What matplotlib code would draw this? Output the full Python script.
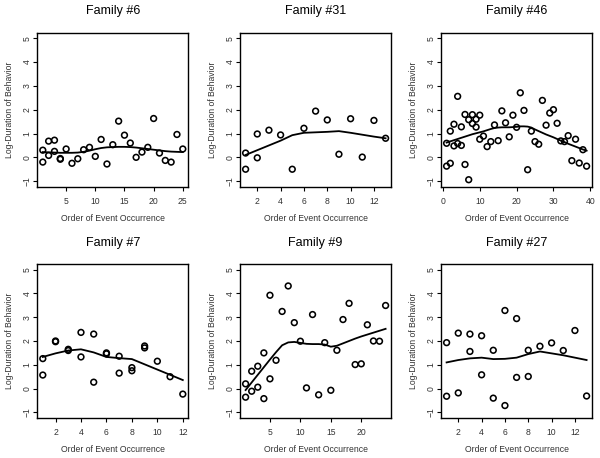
import matplotlib
matplotlib.use("Agg")
import matplotlib.pyplot as plt

plt.rcParams['font.family'] = ['Liberation Sans', 'DejaVu Sans']

# Family #6
x6 = [1, 1, 2, 2, 3, 3, 4, 4, 5, 6, 7, 8, 9, 10, 11, 12, 13, 14, 15, 16, 17, 18, 19, 20, 21, 22, 23, 24, 25]
y6 = [0.30, -0.20, 0.68, 0.08, 0.72, 0.25, -0.05, -0.08, 0.35, -0.25, -0.06, 0.32, 0.42, 0.04, 0.75,
      -0.28, 0.53, 1.52, 0.93, 0.60, 0.00, 0.22, 0.42, 1.63, 0.18, -0.13, -0.20, 0.96, 0.35]
fit6 = [0.22, 0.21, 0.20, 0.19, 0.19, 0.19, 0.20, 0.23, 0.28, 0.34, 0.39, 0.42, 0.43, 0.44, 0.44,
        0.43, 0.41, 0.38, 0.35, 0.32, 0.29, 0.26, 0.24, 0.23, 0.22]

# Family #31
x31 = [1, 1, 2, 2, 3, 4, 5, 6, 7, 8, 9, 10, 11, 12, 13]
y31 = [0.18, -0.50, 0.98, -0.02, 1.14, 0.94, -0.50, 1.22, 1.94, 1.57, 0.13, 1.62, 0.01, 1.55, 0.80]
fit31 = [0.10, 0.30, 0.50, 0.70, 0.93, 1.03, 1.05, 1.07, 1.10, 1.03, 0.95, 0.87, 0.80]

# Family #46
x46 = [1, 1, 2, 2, 3, 3, 4, 4, 5, 5, 6, 6, 7, 7, 8, 8, 9, 9, 10, 10, 11, 12, 13, 14, 15, 16, 17, 18, 19,
       20, 21, 22, 23, 24, 25, 26, 27, 28, 29, 30, 31, 32, 33, 34, 35, 36, 37, 38, 39]
y46 = [-0.37, 0.59, -0.25, 1.10, 1.39, 0.48, 2.56, 0.58, 1.28, 0.50, 1.80, -0.30, 1.58, -0.94, 1.79, 1.42,
       1.60, 1.27, 1.77, 0.76, 0.89, 0.45, 0.66, 1.36, 0.70, 1.95, 1.45, 0.86, 1.77, 1.26, 2.71, 1.97,
       -0.52, 1.10, 0.66, 0.55, 2.39, 1.35, 1.86, 2.00, 1.43, 0.69, 0.66, 0.91, -0.14, 0.76, -0.24, 0.32, -0.37]
fit46 = [0.62, 0.67, 0.72, 0.77, 0.82, 0.87, 0.92, 0.97, 1.01, 1.05, 1.09, 1.14, 1.19, 1.23, 1.25, 1.26,
         1.26, 1.26, 1.27, 1.28, 1.30, 1.30, 1.29, 1.25, 1.17, 1.10, 1.03, 0.96, 0.90, 0.84, 0.77, 0.70,
         0.64, 0.57, 0.51, 0.45, 0.39, 0.33, 0.28]

# Family #7
x7 = [1, 1, 2, 2, 3, 3, 4, 4, 5, 5, 6, 6, 7, 7, 8, 8, 9, 9, 10, 11, 12]
y7 = [1.26, 0.57, 1.97, 2.00, 1.60, 1.65, 2.36, 1.33, 2.29, 0.27, 1.50, 1.46, 1.36, 0.65, 0.88, 0.75,
      1.79, 1.71, 1.15, 0.50, -0.23]
fit7 = [1.33, 1.48, 1.60, 1.65, 1.52, 1.33, 1.28, 1.24, 1.02, 0.80, 0.58, 0.36]

# Family #9
x9 = [1, 1, 2, 2, 3, 3, 4, 4, 5, 5, 6, 7, 8, 9, 10, 11, 12, 13, 14, 15, 16, 17, 18, 19, 20, 21, 22, 23, 24]
y9 = [0.20, -0.36, 0.73, -0.11, 0.94, 0.06, 1.50, -0.42, 3.92, 0.41, 1.19, 3.24, 4.31, 2.77, 1.99, 0.03,
      3.11, -0.26, 1.93, -0.07, 1.61, 2.90, 3.58, 1.01, 1.04, 2.68, 2.00, 1.99, 3.49]
fit9 = [-0.06, 0.26, 0.58, 0.90, 1.22, 1.53, 1.82, 1.94, 1.96, 1.92, 1.88, 1.87, 1.87, 1.85, 1.76, 1.80,
        1.90, 2.00, 2.10, 2.19, 2.27, 2.35, 2.43, 2.51]

# Family #27
x27 = [1, 1, 2, 2, 3, 3, 4, 4, 5, 5, 6, 6, 7, 7, 8, 8, 9, 10, 11, 12, 13]
y27 = [1.93, -0.32, 2.33, -0.18, 2.29, 1.56, 2.22, 0.58, 1.61, -0.40, 3.28, -0.71, 2.94, 0.47, 1.61, 0.51,
       1.78, 1.92, 1.60, 2.44, -0.31]
fit27 = [1.10, 1.20, 1.27, 1.30, 1.24, 1.25, 1.30, 1.45, 1.56, 1.48, 1.40, 1.30, 1.20]

titles = ['Family #6', 'Family #31', 'Family #46', 'Family #7', 'Family #9', 'Family #27']
xs = [x6, x31, x46, x7, x9, x27]
ys = [y6, y31, y46, y7, y9, y27]
fits = [fit6, fit31, fit46, fit7, fit9, fit27]
xticks = [[5, 10, 15, 20, 25], [2, 4, 6, 8, 10, 12], [0, 10, 20, 30, 40],
          [2, 4, 6, 8, 10, 12], [5, 10, 15, 20], [2, 4, 6, 8, 10, 12]]
yticks = [-1, 0, 1, 2, 3, 4, 5]

fig = plt.figure(figsize=(6, 4.58), dpi=100)
lefts = [0.062, 0.400, 0.735]
bottoms = [0.592, 0.087]
w, h = 0.252, 0.337
txt = '#333333'

for i in range(6):
    ax = fig.add_axes([lefts[i % 3], bottoms[i // 3], w, h])
    x = xs[i]
    ax.scatter(x, ys[i], s=17, facecolors='none', edgecolors='black', linewidths=1.15, zorder=3)
    xf = list(range(1, len(fits[i]) + 1))
    ax.plot(xf, fits[i], color='black', linewidth=1.3)
    lo, hi = min(x), max(x)
    pad = (hi - lo) * 0.04
    ax.set_xlim(lo - pad, hi + pad)
    ax.set_ylim(-1.24, 5.24)
    ax.set_xticks(xticks[i])
    ax.set_yticks(yticks)
    ax.tick_params(direction='out', length=3, width=0.8, labelsize=6.2, colors='black',
                   labelcolor=txt)
    ax.tick_params(axis='x', pad=4)
    ax.tick_params(axis='y', pad=1)
    for lab in ax.get_yticklabels():
        lab.set_rotation(90)
        lab.set_va('center')
    for sp in ax.spines.values():
        sp.set_linewidth(1.0)
    ax.set_title(titles[i], fontsize=9, pad=13)
    ax.set_xlabel('Order of Event Occurrence', fontsize=6.2, color=txt, labelpad=6)
    ax.set_ylabel('Log-Duration of Behavior', fontsize=6.2, color=txt, labelpad=6)

fig.savefig('out.png', dpi=100)
